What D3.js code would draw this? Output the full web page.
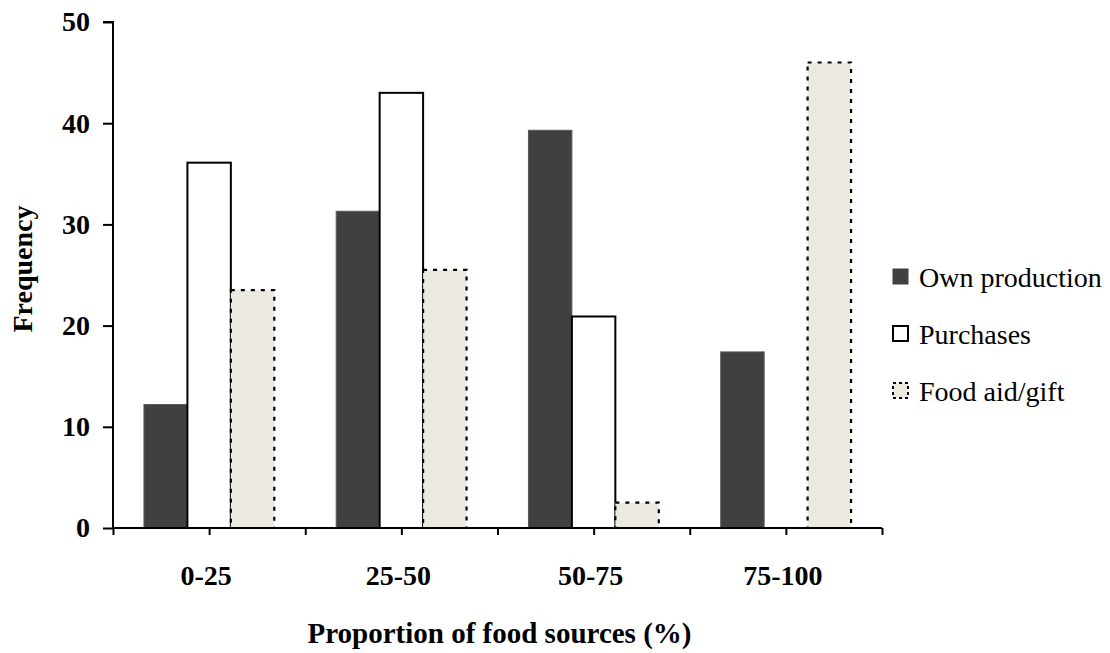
<!DOCTYPE html>
<html>
<head>
<meta charset="utf-8">
<script src="https://cdn.jsdelivr.net/npm/d3@7"></script>
<style>
html, body { margin: 0; padding: 0; background: #fff; }
svg { display: block; }
text { font-family: "Liberation Serif", "Times New Roman", serif; fill: #000; }
</style>
</head>
<body>
<svg id="chart" width="1110" height="653"></svg>
<script>
const categories = ["0-25", "25-50", "50-75", "75-100"];
const seriesNames = ["Own production", "Purchases", "Food aid/gift"];
const ownProduction = [12.2, 31.3, 39.3, 17.4];
const purchases = [36.1, 43.0, 20.9, 0];
const foodAid = [23.5, 25.5, 2.5, 46.0];
const yTicks = [0, 10, 20, 30, 40, 50];

const seriesValues = [ownProduction, purchases, foodAid];
const styles = [
  { fill: "#404040", stroke: "#5a5a5a", width: 1, dash: null },
  { fill: "#ffffff", stroke: "#000000", width: 2, dash: null },
  { fill: "#ECEAE0", stroke: "#000000", width: 2.2, dash: "4,6" }
];

const svg = d3.select("#chart");
const mLeft = 113, mRight = 882, mTop = 22, mBottom = 528;

const x = d3.scaleBand().domain(categories).range([mLeft, mRight])
  .paddingInner(0.322).paddingOuter(0.161);
const xs = d3.scaleBand().domain(d3.range(3)).range([0, x.bandwidth()]);
const xi = d3.scaleLinear().domain([0, categories.length]).range([mLeft, mRight]);
const y = d3.scaleLinear().domain([0, 50]).range([mBottom, mTop]);

// bars
const groups = svg.append("g").selectAll("g")
  .data(categories).join("g")
  .attr("transform", d => `translate(${x(d)},0)`);

groups.selectAll("rect")
  .data((c, ci) => seriesValues.map((vals, si) => ({ si, v: vals[ci] })).filter(d => d.v > 0))
  .join("rect")
  .attr("x", d => xs(d.si))
  .attr("width", xs.bandwidth())
  .attr("y", d => y(d.v))
  .attr("height", d => y(0) - y(d.v))
  .attr("fill", d => styles[d.si].fill)
  .attr("stroke", d => styles[d.si].stroke)
  .attr("stroke-width", d => styles[d.si].width)
  .attr("stroke-dasharray", d => styles[d.si].dash);

// y axis
const yAxis = svg.append("g")
  .attr("transform", `translate(${mLeft},0)`)
  .call(d3.axisLeft(y).tickValues(yTicks).tickSize(10).tickPadding(13).tickFormat(d3.format("d")));
yAxis.select(".domain").attr("stroke", "#000").attr("stroke-width", 2).attr("d", `M-10,${mTop}H0V${mBottom}`);
yAxis.selectAll(".tick line").attr("stroke", "#000").attr("stroke-width", 2);
yAxis.selectAll(".tick text").style("font-family", "Liberation Serif").style("font-weight", "bold").style("font-size", "28px").attr("fill", "#000");

// x axis (ticks at boundaries and centers)
const xAxis = svg.append("g")
  .attr("transform", `translate(0,${mBottom})`)
  .call(d3.axisBottom(xi).tickValues(d3.range(0, categories.length + 0.01, 0.5)).tickSize(7).tickFormat(""));
xAxis.select(".domain").attr("stroke", "#000").attr("stroke-width", 2).attr("d", `M${mLeft},0H${mRight}`);
xAxis.selectAll(".tick line").attr("stroke", "#000").attr("stroke-width", 2);

// category labels
svg.append("g").selectAll("text")
  .data(categories).join("text")
  .attr("x", d => x(d) + x.bandwidth() / 2 - 3)
  .attr("y", 585)
  .attr("text-anchor", "middle")
  .style("font-weight", "bold").style("font-size", "28px")
  .text(d => d);

// axis titles
svg.append("text")
  .attr("x", (mLeft + mRight) / 2 + 2)
  .attr("y", 643)
  .attr("text-anchor", "middle")
  .style("font-weight", "bold").style("font-size", "29px")
  .text("Proportion of food sources (%)");

svg.append("text")
  .attr("transform", "translate(32,269) rotate(-90)")
  .attr("text-anchor", "middle")
  .style("font-weight", "bold").style("font-size", "28px")
  .text("Frequency");

// legend
const legend = svg.append("g").selectAll("g")
  .data(seriesNames).join("g")
  .attr("transform", (d, i) => `translate(892,${287 + i * 57})`);
legend.append("rect")
  .attr("x", 1).attr("y", -18).attr("width", 15).attr("height", 15)
  .attr("fill", (d, i) => styles[i].fill)
  .attr("stroke", (d, i) => i === 0 ? "#404040" : "#000")
  .attr("stroke-width", (d, i) => i === 0 ? 1 : 2)
  .attr("stroke-dasharray", (d, i) => i === 2 ? "3,3" : null);
legend.append("text")
  .attr("x", 27).attr("y", 0)
  .style("font-size", "28px")
  .text(d => d);
</script>
</body>
</html>
